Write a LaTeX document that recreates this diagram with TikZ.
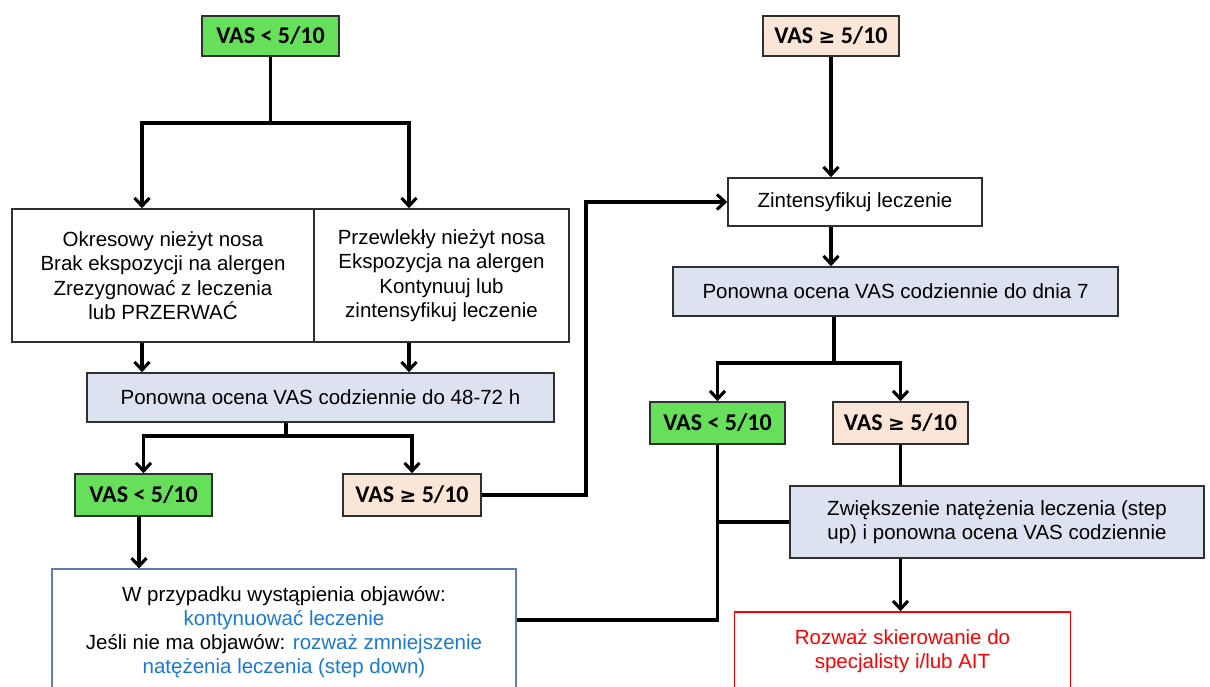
\documentclass[tikz,border=0pt]{standalone}
\usepackage{fontspec}
\setmainfont{Liberation Sans}
\newfontfamily\vasfont{Carlito}
\newfontfamily\symfont{DejaVu Sans}
\usetikzlibrary{arrows.meta}
\definecolor{vgreen}{HTML}{66E05A}
\definecolor{vpeach}{HTML}{FBE5D6}
\definecolor{vblue}{HTML}{DCE2EF}
\definecolor{boxgray}{HTML}{303030}
\definecolor{txtblue}{HTML}{1A7AD0}
\definecolor{wborder}{HTML}{5A7FB5}
\begin{document}
\begin{tikzpicture}[x=1pt,y=-1pt,
  box/.style={draw=boxgray, line width=1.6pt, inner sep=0pt, align=center,
    font=\fontsize{20.5}{24.5}\selectfont},
  vas/.style={box, font=\vasfont\bfseries\fontsize{24}{26}\selectfont},
  txt/.style={inner sep=0pt, align=center, font=\fontsize{20.5}{24}\selectfont},
  conn/.style={line width=3.1pt, draw=black},
  arr/.style={conn, -{Straight Barb[length=8pt,width=15pt]}}]
\useasboundingbox (0,0) rectangle (1210,686);
\fill[white] (0,0) rectangle (1210,686);

% nodes
\node[vas, fill=vgreen, minimum width=137pt, minimum height=40pt] (g1) at (270.5,36) {VAS < 5/10};
\node[vas, fill=vpeach, minimum width=136pt, minimum height=40pt] (p1) at (831,36) {VAS {\symfont\fontsize{20}{24}\selectfont ≥} 5/10};

\node[box, minimum width=302.5pt, minimum height=133pt] (ok) at (163,275.5)
  {Okresowy nieżyt nosa\\Brak ekspozycji na alergen\\Zrezygnować z leczenia\\lub PRZERWAĆ};
\node[box, minimum width=255pt, minimum height=133pt] (pr) at (441.5,275.5)
  {Przewlekły nieżyt nosa\\Ekspozycja na alergen\\Kontynuuj lub\\zintensyfikuj leczenie};

\node[box, minimum width=254pt, minimum height=48pt] (zi) at (855,202) {Zintensyfikuj leczenie};
\node[box, fill=vblue, minimum width=445pt, minimum height=49pt] (po7) at (895.5,291.5) {Ponowna ocena VAS codziennie do dnia 7};
\node[box, fill=vblue, minimum width=467pt, minimum height=49pt] (po48) at (320.5,397.5) {Ponowna ocena VAS codziennie do 48-72 h};

\node[vas, fill=vgreen, minimum width=137pt, minimum height=42pt] (g2) at (143.5,495) {VAS < 5/10};
\node[vas, fill=vpeach, minimum width=138pt, minimum height=42pt] (p2) at (412,495) {VAS {\symfont\fontsize{20}{24}\selectfont ≥} 5/10};
\node[vas, fill=vgreen, minimum width=135pt, minimum height=42pt] (g3) at (717.5,423) {VAS < 5/10};
\node[vas, fill=vpeach, minimum width=135pt, minimum height=42pt] (p3) at (900.5,423) {VAS {\symfont\fontsize{20}{24}\selectfont ≥} 5/10};

\node[box, fill=vblue, minimum width=414pt, minimum height=72pt] (zw) at (997,522)
  {Zwiększenie natężenia leczenia (step\\up) i ponowna ocena VAS codziennie};

\node[draw=wborder, line width=1.2pt, minimum width=464pt, minimum height=151pt, inner sep=0pt] (wb) at (284,644.5) {};
\node[txt] (wbt) at (284,632)
  {W przypadku wystąpienia objawów:\\
   \textcolor{txtblue}{kontynuować leczenie}\\
   Jeśli nie ma objawów: \textcolor{txtblue}{rozważ zmniejszenie}\\
   \textcolor{txtblue}{natężenia leczenia (step down)}};

\node[draw=red, line width=1.6pt, minimum width=336pt, minimum height=108pt, inner sep=0pt] (rd) at (902.5,666) {};
\node[txt, text=red] (rdt) at (902.5,651) {Rozważ skierowanie do\\specjalisty i/lub AIT};

% junction coordinates
\coordinate (jl) at (142,123);
\coordinate (jr) at (409,123);
\coordinate (k2) at (286,436);
\coordinate (k3) at (586,300);
\coordinate (k4) at (834,363);
\coordinate (k5) at (717.5,620);
\coordinate (k6) at (139,520);

% connectors
\draw[arr] (g1.south) |- (jl) -- (jl |- ok.north);
\draw[arr] (g1.south) |- (jr) -- (jr |- pr.north);
\draw[arr] (jl |- ok.south) -- (jl |- po48.north);
\draw[arr] (jr |- pr.south) -- (jr |- po48.north);
\draw[conn] (k2 |- po48.south) -- (k2);
\draw[arr] (k2) -| (g2.north);
\draw[arr] (k2) -| (p2.north);
\draw[arr] (k6 |- g2.south) -- (k6 |- wb.north);
\draw[arr] (p2.east) -| (k3) |- (zi.west);
\draw[arr] (p1.south) -- (p1.south |- zi.north);
\draw[arr] (p1.south |- zi.south) -- (p1.south |- po7.north);
\draw[conn] (k4 |- po7.south) -- (k4);
\draw[arr] (k4) -| (g3.north);
\draw[arr] (k4) -| (p3.north);
\draw[conn] (p3.south) -- (p3.south |- zw.north);
\draw[arr] (p3.south |- zw.south) -- (p3.south |- rd.north);
\draw[conn] (g3.south) -- (k5) -- (k5 -| wb.east);
\draw[conn] (g3.south |- zw.west) -- (zw.west);
\end{tikzpicture}
\end{document}
